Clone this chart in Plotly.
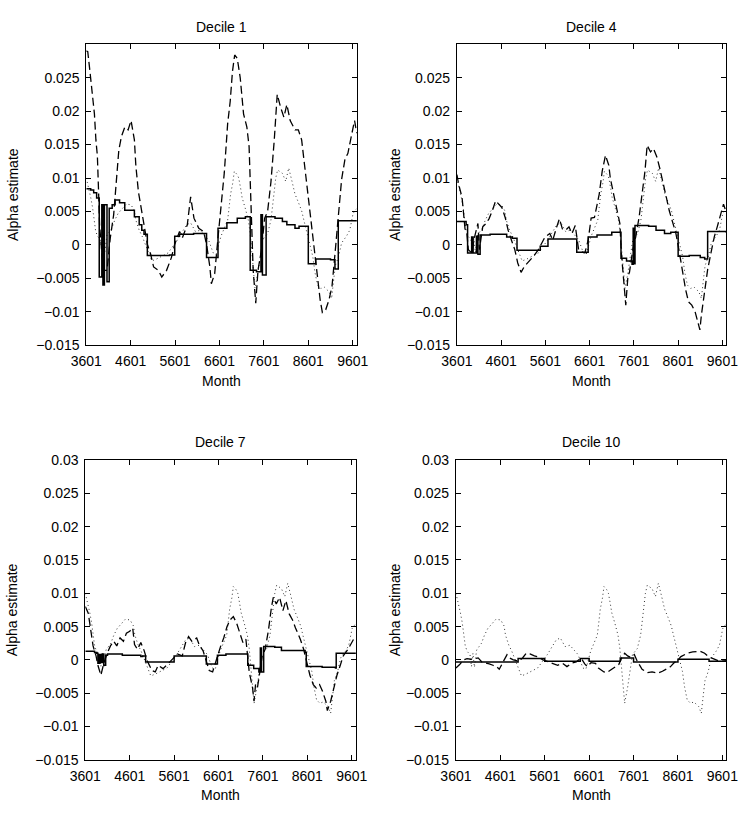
import plotly.graph_objects as go

# ---------------- data (month index: 0 = 3601, 12 months per year) ----------------
X_TICK_POS = [0, 120, 240, 360, 480, 600, 720]
X_TICK_TXT = ["3601", "4601", "5601", "6601", "7601", "8601", "9601"]
Y_TICKS_TOP = [-0.015, -0.01, -0.005, 0, 0.005, 0.01, 0.015, 0.02, 0.025]
Y_TICKS_BOT = Y_TICKS_TOP + [0.03]
PANEL_TITLES = ["Decile 1", "Decile 4", "Decile 7", "Decile 10"]

# dotted series (common to all panels)
DOTTED = [(0, .0100), (7, .0085), (12, .0071), (17, .0056), (21, .0035), (25, .0022), (30, .0013),
          (38, .0008), (42, -.0010), (46, .0010), (50, -.0011), (56, .0015), (69, .0025), (77, .0037),
          (86, .0047), (99, .0056), (108, .0061), (121, .0060), (130, .0051), (134, .0037), (143, .0022),
          (151, .0013), (160, .0000), (169, -.0012), (177, -.0024), (190, -.0021), (203, -.0017),
          (221, -.0012), (234, -.0002), (247, .0008), (260, .0020), (271, .0030), (282, .0033),
          (295, .0020), (308, .0022), (321, .0013), (330, .0008), (343, -.0012), (351, -.0014),
          (364, .0013), (373, .0025), (382, .0037), (386, .0056), (390, .0076), (396, .0093),
          (400, .0110), (408, .0105), (412, .0100), (417, .0085), (421, .0071), (430, .0054),
          (438, .0037), (443, .0017), (447, -.0012), (451, -.0041), (456, -.0065), (464, -.0041),
          (469, -.0021), (473, -.0007), (477, .0008), (490, .0017), (499, .0037), (503, .0056),
          (508, .0081), (512, .0100), (517, .0112), (530, .0107), (539, .0095), (547, .0115),
          (556, .0095), (564, .0076), (573, .0064), (582, .0051), (588, .0037), (595, .0022),
          (604, .0003), (612, -.0017), (618, -.0041), (625, -.0060), (634, -.0065), (643, -.0063),
          (656, -.0070), (663, -.0080), (669, -.0050), (673, -.0031), (682, -.0017), (690, .0003),
          (703, .0013), (712, .0022), (721, .0047), (730, .0054)]

# ---- Decile 1 ----
D1_SOLID = [(0, .0084), (12, .0082), (20, .0078), (28, .0070), (35, -.0048), (42, .0060),
            (45, -.0060), (49, .0060), (56, -.0055), (62, .0055), (70, .0060),
            (78, .0067), (90, .0063), (104, .0052), (118, .0052), (130, .0042), (143, .0030), (150, .0022),
            (156, .0016), (165, -.0016), (200, -.0016), (225, -.0015), (239, .0013), (252, .0016),
            (290, .0017), (325, -.0019), (356, .0025), (380, .0033), (408, .0040), (430, .0042),
            (443, -.0038), (460, -.0040), (472, .0045), (476, -.0045), (486, .0042), (510, .0040),
            (530, .0035), (542, .0030), (564, .0025), (575, .0028),
            (600, -.0028), (620, -.0021), (660, -.0022), (672, -.0036), (681, .0036), (731, .0035)]
D1_DASHED = [(0, .0290), (4, .0289), (10, .0259), (16, .0230), (22, .0196), (26, .0157), (30, .0133),
             (33, .0084), (36, .0030), (43, -.0019), (48, -.0038), (56, -.0038), (65, .0011), (74, .0045),
             (82, .0094), (88, .0142), (95, .0162), (104, .0176), (113, .0172), (121, .0186), (130, .0157),
             (134, .0118), (141, .0079), (147, .0059), (156, .0025), (165, .0001), (174, -.0014),
             (182, -.0033), (195, -.0038), (204, -.0048), (217, -.0038), (230, -.0019), (239, .0001),
             (252, .0020), (260, .0011), (273, .0030), (282, .0072), (291, .0040), (304, .0025),
             (317, .0020), (325, .0001), (334, -.0033), (338, -.0058), (347, -.0043), (356, .0011),
             (364, .0059), (373, .0108), (382, .0181), (389, .0215), (395, .0259), (401, .0284),
             (408, .0279), (416, .0250), (425, .0196), (434, .0176), (440, .0147), (444, .0084),
             (448, .0011), (451, -.0038), (458, -.0087), (464, -.0038), (473, -.0009), (482, .0040),
             (490, .0050), (499, .0094), (508, .0157), (516, .0225), (525, .0206), (534, .0191),
             (542, .0210), (551, .0186), (564, .0172), (573, .0172), (582, .0157), (590, .0118),
             (599, .0074), (608, .0035), (616, .0001), (625, -.0043), (632, -.0082), (638, -.0101),
             (647, -.0097), (656, -.0082), (664, -.0062), (672, -.0014), (681, .0040), (690, .0098),
             (699, .0128), (707, .0137), (716, .0162), (725, .0186), (731, .0167)]

# ---- Decile 4 ----
D4_SOLID = [(0, .0035), (18, .0035), (25, .0030), (29, -.0012), (40, .0012), (44, -.0012), (53, .0013),
            (57, -.0014), (63, .0015), (90, .0016), (135, .0012), (150, .0010), (163, -.0008),
            (226, -.0002), (247, .0009), (325, -.0011), (356, .0012), (380, .0015), (420, .0019),
            (445, -.0020), (460, -.0024), (475, -.0029), (478, .0025), (480, -.0028), (483, .0029),
            (520, .0028), (540, .0022), (563, .0017), (580, .0019), (600, -.0017), (630, -.0016),
            (660, -.0019), (672, -.0021), (680, .0020), (731, .0018)]
D4_DASHED = [(0, .0105), (5, .0090), (14, .0071), (18, .0041), (22, .0024), (27, .0017), (31, -.0007),
             (40, -.0012), (48, .0012), (57, .0032), (61, -.0007), (70, .0027), (79, .0032), (87, .0039),
             (96, .0051), (105, .0066), (113, .0061), (122, .0056), (131, .0041), (139, .0022),
             (148, .0007), (157, -.0007), (165, -.0027), (174, -.0041), (183, -.0032), (196, -.0024),
             (208, -.0017), (221, -.0007), (230, .0002), (239, .0012), (252, .0017), (260, .0007),
             (269, .0024), (278, .0039), (286, .0024), (295, .0022), (304, .0027), (312, .0017),
             (321, .0029), (330, -.0007), (338, -.0010), (347, -.0012), (356, .0007), (364, .0040),
             (373, .0041), (386, .0076), (394, .0110), (403, .0134), (412, .0119), (416, .0100),
             (425, .0076), (433, .0056), (442, .0032), (446, -.0012), (450, -.0037), (458, -.0090),
             (464, -.0046), (468, -.0041), (477, -.0007), (485, .0012), (494, .0041), (503, .0080),
             (510, .0110), (516, .0149), (525, .0139), (533, .0144), (542, .0132), (550, .0115),
             (559, .0095), (568, .0071), (576, .0051), (585, .0032), (594, .0017), (602, -.0007),
             (611, -.0037), (620, -.0066), (628, -.0085), (637, -.0090), (646, -.0100), (654, -.0115),
             (659, -.0127), (663, -.0105), (672, -.0071), (680, -.0037), (689, -.0012), (698, .0012),
             (706, .0027), (715, .0046), (723, .0061), (729, .0051)]

# ---- Decile 7 ----
D7_SOLID = [(0, .0013), (25, .0011), (31, .0010), (34, -.0005), (38, .0008), (42, -.0004), (46, .0009),
            (50, -.0008), (55, .0007), (60, .0009), (100, .0007), (150, .0005), (155, .0006),
            (163, -.0003), (240, .0006), (327, -.0006), (357, .0007), (380, .0009), (439, -.0008),
            (455, -.0013), (469, -.0018), (473, .0018), (476, -.0018), (482, .0020), (512, .0019),
            (530, .0014), (594, .0011), (597, -.0010), (640, -.0011), (676, -.0012), (678, .0010),
            (731, .0009)]
D7_DASHED = [(0, .0080), (2, .0077), (8, .0070), (16, .0040), (21, .0021), (29, .0006), (34, -.0008),
             (42, -.0023), (51, -.0003), (60, .0011), (68, .0021), (77, .0028), (85, .0021), (94, .0033),
             (103, .0028), (111, .0040), (120, .0043), (128, .0048), (133, .0023), (141, .0016),
             (150, .0026), (159, .0014), (167, -.0001), (180, -.0016), (189, -.0018), (197, -.0008),
             (210, -.0013), (223, -.0006), (236, .0001), (249, .0009), (262, .0006), (271, .0026),
             (279, .0035), (288, .0028), (301, .0033), (309, .0021), (318, .0014), (327, -.0003),
             (335, -.0016), (344, -.0018), (357, .0006), (366, .0021), (374, .0033), (383, .0050),
             (391, .0060), (400, .0065), (409, .0055), (417, .0040), (426, .0026), (434, .0031),
             (439, .0006), (443, -.0018), (452, -.0042), (456, -.0062), (460, -.0037), (465, -.0042),
             (473, -.0013), (478, .0006), (486, .0016), (495, .0045), (503, .0079), (508, .0094),
             (516, .0084), (525, .0094), (534, .0074), (542, .0089), (551, .0069), (560, .0060),
             (568, .0048), (581, .0031), (590, .0016), (598, -.0003), (607, -.0023), (616, -.0037),
             (624, -.0042), (633, -.0037), (641, -.0047), (650, -.0062), (654, -.0076), (663, -.0062),
             (672, -.0042), (680, -.0023), (689, -.0008), (697, .0006), (710, .0016), (719, .0026),
             (729, .0035)]

# ---- Decile 10 ----
D10_SOLID = [(0, -.0003), (168, .0002), (240, -.0002), (336, .0002), (360, -.0002), (444, .0003),
             (480, -.0003), (600, .0001), (684, -.0002), (731, -.0002)]
D10_DASHED = [(0, -.0012), (10, -.0007), (20, .0000), (30, .0002), (40, .0001), (50, .0002), (60, .0003),
              (70, -.0003), (80, -.0004), (90, -.0006), (100, -.0008), (110, -.0010), (117, -.0014),
              (125, -.0005), (130, .0000), (138, .0008), (145, .0003), (155, .0000), (170, -.0002),
              (180, .0003), (190, .0010), (200, .0009), (212, .0006), (225, .0004), (235, .0000),
              (250, -.0003), (265, -.0006), (275, -.0008), (288, -.0005), (300, -.0010), (312, -.0005),
              (325, -.0003), (338, .0003), (348, -.0006), (355, -.0010), (365, -.0004), (377, -.0005),
              (385, -.0012), (400, -.0018), (408, -.0019), (421, -.0014), (432, -.0010), (440, -.0007),
              (448, .0003), (456, .0010), (464, .0006), (472, .0004), (482, .0008), (490, -.0002),
              (503, -.0014), (517, -.0019), (530, -.0018), (545, -.0020), (558, -.0017), (569, -.0014),
              (580, -.0010), (590, -.0004), (600, .0000), (608, .0005), (625, .0010), (640, .0012),
              (660, .0013), (672, .0010), (682, .0005), (695, .0002), (708, -.0001), (720, -.0002),
              (731, -.0001)]

PANELS = [(D1_SOLID, D1_DASHED), (D4_SOLID, D4_DASHED), (D7_SOLID, D7_DASHED), (D10_SOLID, D10_DASHED)]

# ---------------- layout geometry (pixels) ----------------
W, H = 750, 814
# (left, right, top, bottom) of each plot box in pixels
BOXES = [(73, 354, 37, 344), (458, 738, 37, 344), (72, 353, 461, 767), (457, 738, 461, 767)]
TITLE_STANDOFF = [14, 2, 14, 2]
FONT = "Liberation Sans, Arial, Helvetica, sans-serif"


def unz(pairs):
    return [p[0] for p in pairs], [p[1] for p in pairs]


def fmt(v):
    if v == 0:
        return "0"
    s = ("%g" % abs(v))
    return ("\u2212" + s) if v < 0 else s


fig = go.Figure()
layout = dict(width=W, height=H, margin=dict(l=0, r=0, t=0, b=0),
              paper_bgcolor="white", plot_bgcolor="white", showlegend=False,
              font=dict(family=FONT, size=14, color="black"))
annotations = []

for i, ((solid, dashed), (l, r, t, b)) in enumerate(zip(PANELS, BOXES)):
    k = "" if i == 0 else str(i + 1)
    xa, ya = "x" + k, "y" + k
    xs, ys = unz(DOTTED)
    fig.add_trace(go.Scatter(x=xs, y=ys, xaxis=xa, yaxis=ya, mode="lines",
                             line=dict(color="#333", width=1, dash="1px,3px"), hoverinfo="skip"))
    xs, ys = unz(dashed)
    fig.add_trace(go.Scatter(x=xs, y=ys, xaxis=xa, yaxis=ya, mode="lines",
                             line=dict(color="black", width=1.3, dash="8px,4px"), hoverinfo="skip"))
    xs, ys = unz(solid)
    fig.add_trace(go.Scatter(x=xs, y=ys, xaxis=xa, yaxis=ya, mode="lines",
                             line=dict(color="black", width=1.5, shape="hv"), hoverinfo="skip"))

    yt = Y_TICKS_TOP if i < 2 else Y_TICKS_BOT
    common = dict(showline=True, linecolor="black", linewidth=1, mirror="allticks",
                  ticks="inside", ticklen=5, tickcolor="black", tickwidth=1,
                  showgrid=False, zeroline=False, tickfont=dict(family=FONT, size=14, color="black"))
    layout["xaxis" + k] = dict(domain=[l / W, r / W], anchor=ya, range=[0, 731],
                               tickmode="array", tickvals=X_TICK_POS, ticktext=X_TICK_TXT,
                               ticklabelstandoff=3, **common)
    layout["yaxis" + k] = dict(domain=[1 - b / H, 1 - t / H], anchor=xa, range=[-0.015, 0.03],
                               tickmode="array", tickvals=yt, ticktext=[fmt(v) for v in yt],
                               ticklabelstandoff=3,
                               title=dict(text="Alpha estimate", standoff=TITLE_STANDOFF[i],
                                          font=dict(family=FONT, size=14, color="black")),
                               **common)
    cx = (l + r) / 2
    annotations.append(dict(text=PANEL_TITLES[i], x=cx / W, y=1 - (t - 18) / H, xref="paper", yref="paper",
                            showarrow=False, xanchor="center", yanchor="middle",
                            font=dict(family=FONT, size=14, color="black")))
    annotations.append(dict(text="Month", x=cx / W, y=1 - (b + 36) / H, xref="paper", yref="paper",
                            showarrow=False, xanchor="center", yanchor="middle",
                            font=dict(family=FONT, size=14, color="black")))

layout["annotations"] = annotations
fig.update_layout(**layout)
fig.write_html("out.html")
